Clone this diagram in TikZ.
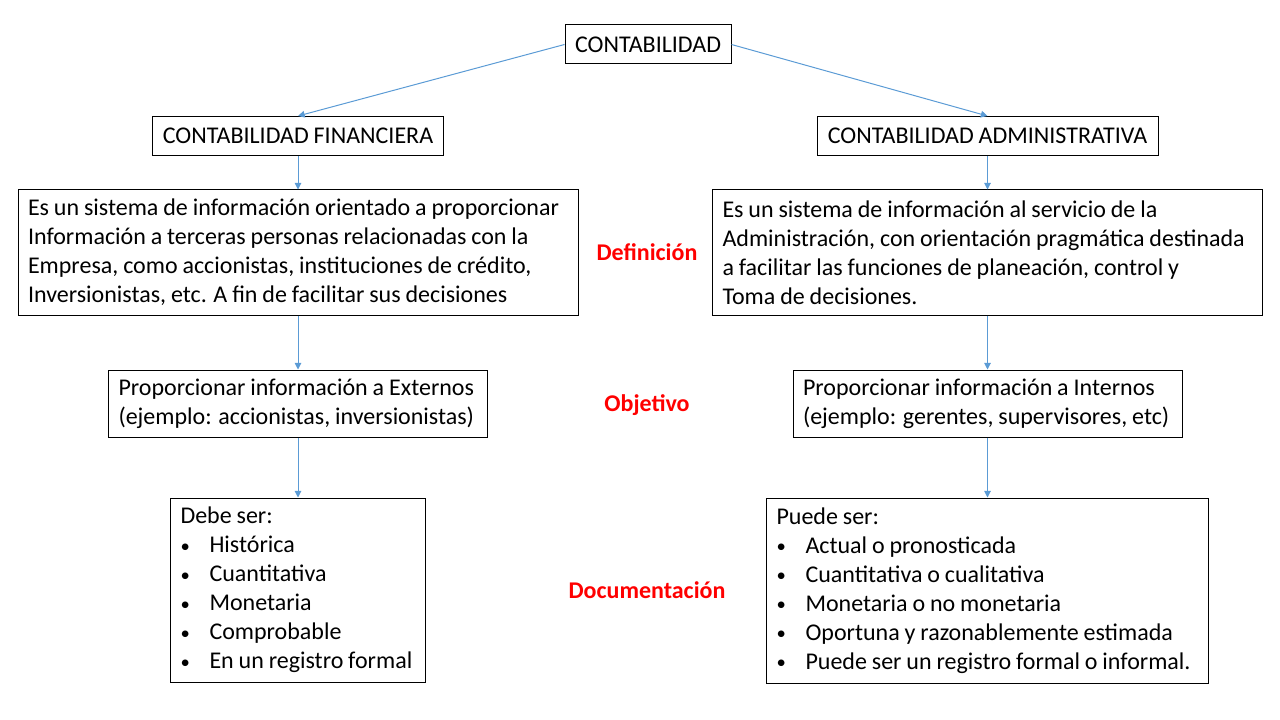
\documentclass[tikz,border=0pt]{standalone}
\usepackage{fontspec}
\setmainfont{Carlito}[WordSpace=0.9]
\usetikzlibrary{arrows.meta}
\definecolor{arrowblue}{RGB}{91,155,213}
\newcommand{\itm}[1]{\makebox[21.75pt][l]{\raisebox{0.5pt}{\fontsize{14}{14}\selectfont\textbullet}}#1}
\tikzset{
  box/.style={draw, line width=0.75pt, inner xsep=7.5pt, inner ysep=2pt, align=flush left,
    font={\fontsize{18}{21.75}\selectfont}},
  titlebox/.style={draw, line width=0.75pt, inner sep=0pt, align=center,
    minimum height=29.25pt, font={\fontsize{18}{21.75}\selectfont}},
  rowlabel/.style={text=red, font={\fontsize{18}{21.75}\selectfont\bfseries}},
  arr/.style={draw=arrowblue, line width=0.75pt, -{Triangle[width=5pt,length=5pt]}}
}
\begin{document}
\begin{tikzpicture}[x=0.75pt,y=0.75pt,yscale=-1,xscale=1]
	\useasboundingbox (0,0) rectangle (1280,720);
	
	% Titles
	\node[titlebox, minimum width=124.5pt] (cont) at (648,44.5) {CONTABILIDAD};
	\node[titlebox, minimum width=218.25pt] (fin) at (298,136) {CONTABILIDAD FINANCIERA};
	\node[titlebox, minimum width=255.75pt] (adm) at (987.5,136) {CONTABILIDAD ADMINISTRATIVA};
	
	% Definition
	\node[box, text width=405pt, minimum height=93.75pt] (defL) at (298,252.5)
		{Es un sistema de información orientado a proporcionar\\
		 Información a terceras personas relacionadas con la\\
		 Empresa, como accionistas, instituciones de crédito,\\
		 Inversionistas, etc. A fin de facilitar sus decisiones};
	\node[box, text width=397.5pt, minimum height=93.75pt] (defR) at (987.5,252.5)
		{Es un sistema de información al servicio de la\\
		 Administración, con orientación pragmática destinada\\
		 a facilitar las funciones de planeación, control y\\
		 Toma de decisiones.};
	
	% Objective
	\node[box, text width=269.25pt, minimum height=50.25pt] (objL) at (298,403.5)
		{Proporcionar información a Externos\\
		 (ejemplo: accionistas, inversionistas)};
	\node[box, text width=276.75pt, minimum height=50.25pt] (objR) at (987.5,403.5)
		{Proporcionar información a Internos\\
		 (ejemplo: gerentes, supervisores, etc)};
	
	% Documentation
	\node[box, text width=176.25pt, minimum height=138pt] (docL) at (298,590)
		{Debe ser:\\
		 \itm{Histórica}\\
		 \itm{Cuantitativa}\\
		 \itm{Monetaria}\\
		 \itm{Comprobable}\\
		 \itm{En un registro formal}};
	\node[box, text width=316.5pt, minimum height=138.75pt] (docR) at (987.5,590.5)
		{Puede ser:\\
		 \itm{Actual o pronosticada}\\
		 \itm{Cuantitativa o cualitativa}\\
		 \itm{Monetaria o no monetaria}\\
		 \itm{Oportuna y razonablemente estimada}\\
		 \itm{Puede ser un registro formal o informal.}};
	
	% Row labels
	\node[rowlabel] (lblDef) at (647,252) {Definición};
	\node[rowlabel] (lblObj) at (647,405) {Objetivo};
	\node[rowlabel] (lblDoc) at (647,590) {Documentación};
	
	% Connections
	\draw[arr] (cont.west) -- (fin.north);
	\draw[arr] (cont.east) -- (adm.north);
	\draw[arr] (fin) -- (defL);
	\draw[arr] (adm) -- (defR);
	\draw[arr] (defL) -- (objL);
	\draw[arr] (defR) -- (objR);
	\draw[arr] (objL) -- (docL);
	\draw[arr] (objR) -- (docR);
	
\end{tikzpicture}
\end{document}
